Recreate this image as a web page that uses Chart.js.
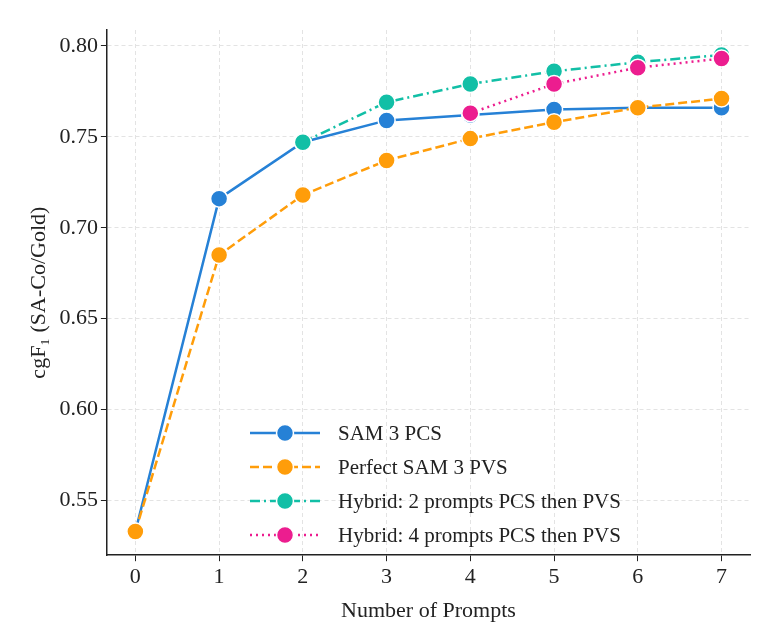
<!DOCTYPE html>
<html>
<head>
<meta charset="utf-8">
<script src="https://cdn.jsdelivr.net/npm/chart.js@4.4.1/dist/chart.umd.min.js"></script>
<style>
  html, body { margin: 0; padding: 0; background: #fff; }
  #wrap { width: 768px; height: 636px; position: relative; }
</style>
</head>
<body>
<div id="wrap"><canvas id="c"></canvas></div>
<script>
const prompts = [0, 1, 2, 3, 4, 5, 6, 7];
const sam3Pcs = [0.533, 0.716, 0.747, 0.759, 0.762, 0.765, 0.766, 0.766];
const perfectPvs = [0.533, 0.685, 0.718, 0.737, 0.749, 0.758, 0.766, 0.771];
const hybrid2 = [null, null, 0.747, 0.769, 0.779, 0.786, 0.791, 0.795];
const hybrid4 = [null, null, null, null, 0.763, 0.779, 0.788, 0.793];
const yTicks = [0.55, 0.60, 0.65, 0.70, 0.75, 0.80];

const series = [
    { label: "SAM 3 PCS", data: sam3Pcs, color: "#2681d6", dash: [] },
    { label: "Perfect SAM 3 PVS", data: perfectPvs, color: "#ff9d0a", dash: [9, 4] },
    { label: "Hybrid: 2 prompts PCS then PVS", data: hybrid2, color: "#12bfa6", dash: [10, 4, 2, 4] },
    { label: "Hybrid: 4 prompts PCS then PVS", data: hybrid4, color: "#ec1d8f", dash: [2, 4] },
];

const FONT = "'Liberation Serif', 'DejaVu Serif', serif";

const legendPlugin = {
    id: "insideLegend",
    afterDraw(chart) {
        const ctx = chart.ctx;
        const x0 = 250, y0 = 433, row = 34;
        ctx.save();
        series.forEach((s, i) => {
            const y = y0 + i * row;
            ctx.strokeStyle = s.color;
            ctx.lineWidth = 2.5;
            ctx.setLineDash(s.dash);
            ctx.beginPath();
            ctx.moveTo(x0, y);
            ctx.lineTo(x0 + 70, y);
            ctx.stroke();
            ctx.setLineDash([]);
            ctx.fillStyle = s.color;
            ctx.strokeStyle = "#fff";
            ctx.lineWidth = 1.5;
            ctx.beginPath();
            ctx.arc(x0 + 35, y, 8.5, 0, Math.PI * 2);
            ctx.fill();
            ctx.stroke();
            ctx.fillStyle = "#222";
            ctx.font = "21px " + FONT;
            ctx.textBaseline = "middle";
            ctx.fillText(s.label, x0 + 88, y + 1);
        });
        ctx.restore();
    }
};

new Chart(document.getElementById("c"), {
    type: "line",
    data: {
        datasets: series.map((s, i) => ({
            label: s.label,
            data: prompts.map((p, j) => ({ x: p, y: s.data[j] })).filter(d => d.y !== null),
            order: series.length - i,
            borderColor: s.color,
            backgroundColor: s.color,
            borderDash: s.dash,
            borderWidth: 2.5,
            pointRadius: 8.5,
            pointBorderColor: "#fff",
            pointBorderWidth: 1.5,
            pointHoverRadius: 8.5,
            tension: 0,
        })),
    },
    options: {
        responsive: true,
        maintainAspectRatio: false,
        animation: false,
        layout: { padding: { left: 22, right: 18, top: 30, bottom: 8 } },
        plugins: { legend: { display: false }, tooltip: { enabled: false } },
        scales: {
            x: {
                type: "linear", min: -0.34, max: 7.34,
                afterBuildTicks: (axis) => { axis.ticks = prompts.map(v => ({ value: v })); },
                grid: { color: "#e3e3e3", tickColor: "#222", tickLength: 6 },
                border: { color: "#222", width: 1.5, dash: [4, 3] },
                ticks: { color: "#222", font: { family: FONT, size: 22 } },
                title: { display: true, text: "Number of Prompts", color: "#222", font: { family: FONT, size: 22 } },
            },
            y: {
                min: 0.52, max: 0.8087,
                afterBuildTicks: (axis) => { axis.ticks = yTicks.map(v => ({ value: v })); },
                grid: { color: "#e3e3e3", tickColor: "#222", tickLength: 6 },
                border: { color: "#222", width: 1.5, dash: [4, 3] },
                ticks: { color: "#222", font: { family: FONT, size: 22 }, callback: v => v.toFixed(2) },
                title: { display: true, text: "cgF\u2081 (SA-Co/Gold)", color: "#222", font: { family: FONT, size: 22 } },
            },
        },
    },
    plugins: [legendPlugin],
});
</script>
</body>
</html>
